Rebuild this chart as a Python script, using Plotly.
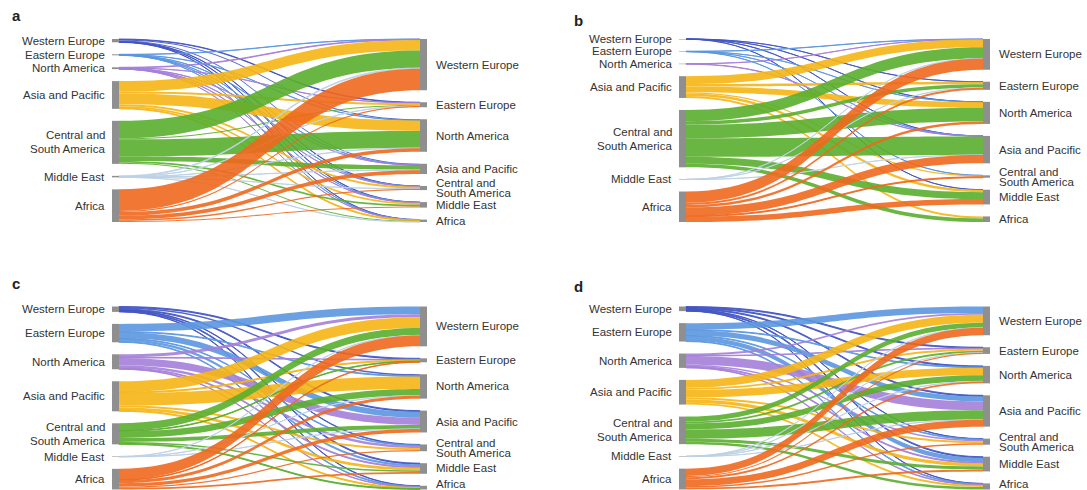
import plotly.graph_objects as go

# ---------------- data ----------------
regions = ["Western Europe", "Eastern Europe", "North America", "Asia and Pacific",
           "Central and South America", "Middle East", "Africa"]
label_lines = [["Western Europe"], ["Eastern Europe"], ["North America"],
               ["Asia and Pacific"], ["Central and", "South America"],
               ["Middle East"], ["Africa"]]
panel_letters = ["a", "b", "c", "d"]

# flows: rows = origin (left), columns = destination (right), order as `regions`
flows_a = [
    [0.0, 0.5, 1.0, 1.0, 0.3, 0.3, 0.2],
    [0.3, 0.0, 0.2, 0.2, 0.1, 0.1, 0.1],
    [0.6, 0.2, 0.0, 0.3, 0.3, 0.3, 0.1],
    [10.5, 2.0, 10.5, 0.0, 2.0, 1.8, 0.9],
    [17.5, 1.0, 17.0, 4.7, 0.0, 1.8, 1.0],
    [0.8, 0.1, 0.2, 0.2, 0.1, 0.0, 0.1],
    [21.5, 1.2, 3.6, 3.8, 1.3, 1.2, 0.0],
]
flows_b = [
    [0.0, 0.05, 0.05, 0.05, 0.0, 0.05, 0.0],
    [0.25, 0.0, 0.05, 0.05, 0.15, 0.0, 0.0],
    [0.1, 0.0, 0.0, 0.4, 0.0, 0.0, 0.0],
    [8.0, 2.5, 6.0, 0.0, 1.3, 2.5, 2.0],
    [11.5, 3.5, 14.0, 19.0, 0.0, 7.0, 3.7],
    [0.1, 0.05, 0.0, 0.05, 0.0, 0.0, 0.0],
    [11.5, 2.2, 2.5, 8.5, 1.0, 5.5, 0.0],
]
flows_c = [
    [0.0, 1.0, 1.5, 1.0, 0.5, 1.0, 0.5],
    [7.8, 0.0, 0.8, 6.2, 0.7, 2.5, 0.8],
    [3.1, 0.7, 0.0, 7.5, 2.5, 1.0, 0.5],
    [11.0, 1.0, 12.7, 0.0, 2.0, 3.0, 1.0],
    [7.5, 0.7, 6.8, 4.0, 0.0, 1.5, 1.0],
    [0.3, 0.0, 0.1, 0.1, 0.0, 0.0, 0.0],
    [11.0, 0.6, 3.0, 3.5, 1.2, 1.8, 0.0],
]
flows_d = [
    [0.0, 1.0, 1.0, 1.0, 0.4, 1.0, 0.3],
    [6.5, 0.0, 0.8, 5.2, 0.8, 4.6, 0.8],
    [2.0, 0.5, 0.0, 9.0, 1.5, 1.0, 0.6],
    [8.0, 2.0, 7.8, 0.0, 2.0, 3.3, 2.0],
    [5.0, 2.0, 6.0, 9.5, 0.0, 3.0, 2.5],
    [0.2, 0.1, 0.1, 0.1, 0.0, 0.0, 0.0],
    [7.5, 1.2, 2.0, 7.0, 1.5, 2.0, 0.0],
]

# ---------------- styling ----------------
region_colors = ["rgba(66,85,196,0.9)", "rgba(91,151,224,0.9)", "rgba(165,127,217,0.9)",
                 "rgba(245,181,20,0.9)", "rgba(90,174,46,0.9)", "rgba(190,210,230,0.9)",
                 "rgba(239,104,30,0.9)"]
NODE_GREY = "rgb(143,143,143)"
TEXT_COLOR = "#333333"
FONT = "Liberation Sans, Arial, sans-serif"
W, HF = 1087, 490
PAD = 12
THICK = 7

# panel geometry in screen pixels: (left node x0, right node x0, top, bottom)
panels = [
    (flows_a, 112, 420, 39.0, 222.0),
    (flows_b, 679, 983, 39.0, 222.0),
    (flows_c, 112, 420, 306.5, 489.5),
    (flows_d, 679, 983, 306.5, 489.5),
]
letter_pos = [(10, 16), (572, 20), (10, 283), (572, 286)]


def px_x(x):
    return x / W


def px_y(y):
    return 1 - y / HF


fig = go.Figure()
annotations = []
n = len(regions)

for flows, lx, rx, top, bottom in panels:
    H = bottom - top
    out_tot = [sum(r) for r in flows]
    in_tot = [sum(flows[i][j] for i in range(n)) for j in range(n)]
    total = sum(out_tot)
    ky = (H - (n - 1) * PAD) / total

    def centers(vals):
        c, acc = [], 0.0
        for v in vals:
            c.append(acc + v * ky / 2)
            acc += v * ky + PAD
        return c

    yl, yr = centers(out_tot), centers(in_tot)
    d0, d1 = lx - 4, rx + THICK + 4
    dw = d1 - d0
    xl = (lx + THICK / 2 - d0) / dw
    xr = (rx + THICK / 2 - d0) / dw

    src, tgt, val, col = [], [], [], []
    for i in range(n):
        for j in range(n):
            if flows[i][j] > 0:
                src.append(i)
                tgt.append(n + j)
                val.append(flows[i][j])
                col.append(region_colors[i])

    fig.add_trace(go.Sankey(
        domain=dict(x=[px_x(d0), px_x(d1)], y=[px_y(bottom), px_y(top)]),
        arrangement="fixed",
        hoverinfo="skip",
        node=dict(label=[""] * (2 * n), pad=PAD, thickness=THICK, color=NODE_GREY,
                  line=dict(width=0),
                  x=[xl] * n + [xr] * n,
                  y=[v / H for v in yl] + [v / H for v in yr]),
        link=dict(source=src, target=tgt, value=val, color=col),
    ))

    for i in range(n):
        for side, ycs in (("left", yl), ("right", yr)):
            lines = label_lines[i]
            yc = min(top + ycs[i], 483.5)
            if len(lines) == 1:
                offs = [0]
            else:
                offs = [-7, 7] if side == "left" else [-5, 5]
            for line, off in zip(lines, offs):
                if side == "left":
                    xa, anchor = lx - 5, "right"
                else:
                    xa, anchor = rx + THICK + 7, "left"
                annotations.append(dict(
                    x=px_x(xa), y=px_y(yc + off), xref="paper", yref="paper",
                    text=line, showarrow=False, xanchor=anchor, yanchor="middle",
                    font=dict(family=FONT, size=11.5, color=TEXT_COLOR)))

for letter, (x, y) in zip(panel_letters, letter_pos):
    annotations.append(dict(
        x=px_x(x), y=px_y(y), xref="paper", yref="paper", text=f"<b>{letter}</b>",
        showarrow=False, xanchor="left", yanchor="middle",
        font=dict(family=FONT, size=15, color="#222222")))

fig.update_layout(
    width=W, height=HF,
    margin=dict(l=0, r=0, t=0, b=0),
    paper_bgcolor="white", plot_bgcolor="white",
    annotations=annotations,
    showlegend=False,
)

fig.write_html("out.html",
               config={"displayModeBar": False},
               post_script="document.body.style.margin='0';document.body.style.overflow='hidden';")
